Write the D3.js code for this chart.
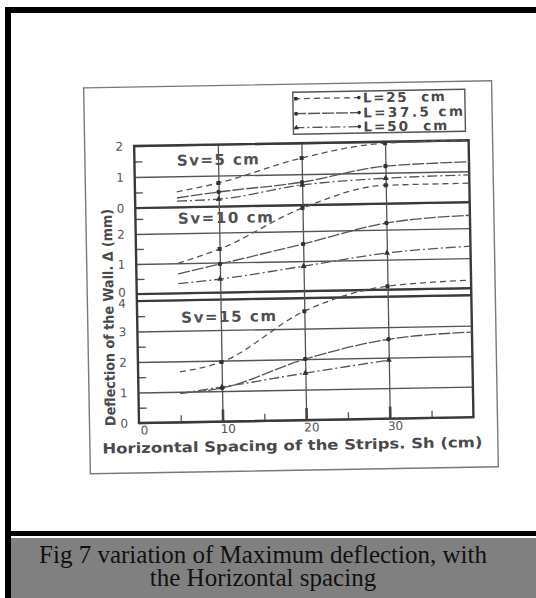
<!DOCTYPE html>
<html>
<head>
<meta charset="utf-8">
<script src="https://cdn.jsdelivr.net/npm/d3@7"></script>
<style>
  body { margin: 0; background: #fff; }
  svg { display: block; }
</style>
</head>
<body>
<svg id="chart" width="536" height="598"></svg>
<script>
// values: max deflection (mm) against horizontal spacing Sh (cm)
const spacingSh = [5, 10, 20, 30, 40];
const markerSh = [10, 20, 30];
const lengthNames = ["L=25  cm", "L=37.5 cm", "L=50  cm"];
const panelNames = ["Sv=5 cm", "Sv=10 cm", "Sv=15 cm"];

// Sv = 5 cm
const sv5L25 = [0.5, 0.76, 1.52, 1.95, 2.0];
const sv5L37 = [0.3, 0.47, 0.74, 1.21, 1.3];
const sv5L50 = [0.2, 0.24, 0.65, 0.82, 0.88];
// Sv = 10 cm
const sv10L25 = [1.0, 1.45, 2.77, 3.48, 3.5];
const sv10L37 = [0.65, 0.95, 1.57, 2.22, 2.43];
const sv10L50 = [0.32, 0.45, 0.83, 1.22, 1.4];
// Sv = 15 cm
const sv15L25 = [1.65, 1.95, 3.57, 4.34, 4.49];
const sv15L37 = [0.95, 1.1, 2.0, 2.6, 2.79];
const sv15L50 = [0.95, 1.13, 1.54, 1.92, null];

const xTickValues = [0, 10, 20, 30];
const xMinorTicks = [5, 15, 25, 35];
const sv5Ticks = [0, 1, 2];
const sv10Ticks = [0, 1, 2];
const sv15Ticks = [0, 1, 2, 3, 4];

const svg = d3.select("#chart");
const ink = "#4a4a4a";

// page frame and caption
svg.append("rect").attr("x", 0).attr("y", 0).attr("width", 536).attr("height", 598).attr("fill", "#fff");
svg.append("rect").attr("x", 5).attr("y", 7).attr("width", 531).attr("height", 6).attr("fill", "#000");
svg.append("rect").attr("x", 5).attr("y", 7).attr("width", 6).attr("height", 591).attr("fill", "#000");
svg.append("rect").attr("x", 5).attr("y", 531).attr("width", 531).attr("height", 5).attr("fill", "#000");
svg.append("rect").attr("x", 11).attr("y", 538).attr("width", 525).attr("height", 60).attr("fill", "#808080");

const caption = svg.append("text")
    .attr("text-anchor", "middle")
    .style("font-family", "'Liberation Serif', 'Times New Roman', serif")
    .style("font-size", "25px")
    .attr("fill", "#111");
caption.append("tspan").attr("x", 263).attr("y", 563).text("Fig 7 variation of Maximum deflection, with");
caption.append("tspan").attr("x", 263).attr("y", 585.5).text("the Horizontal spacing");

// the scanned chart sits slightly tilted
const g = svg.append("g").attr("transform", "rotate(-1, 136.5, 280)");

g.append("rect").attr("x", 87).attr("y", 87).attr("width", 408).attr("height", 386)
    .attr("fill", "none").attr("stroke", "#7a7a7a").attr("stroke-width", 1.4);

const plotLeft = 136.5, plotRight = 471, plotTop = 146, plotBottom = 423;
const x = d3.scaleLinear().domain([0, 40]).range([plotLeft, plotRight]);

const panels = [
    { name: panelNames[0], y: d3.scaleLinear().domain([0, 2]).range([208, 146]), ticks: sv5Ticks,
      minor: [0.5, 1.5], values: [sv5L25, sv5L37, sv5L50], lx: 179, ly: 161.5, lw: 82 },
    { name: panelNames[1], y: d3.scaleLinear().domain([0, 2]).range([294, 234]), ticks: sv10Ticks,
      minor: [0.5, 1.5, 2.5], values: [sv10L25, sv10L37, sv10L50], lx: 179, ly: 219.5, lw: 95 },
    { name: panelNames[2], y: d3.scaleLinear().domain([0, 4]).range([423, 301]), ticks: sv15Ticks,
      minor: [0.5, 1.5, 2.5, 3.5], values: [sv15L25, sv15L37, sv15L50], lx: 180.5, ly: 318.5, lw: 95 }
];

const dashes = ["6,4", "12,2", "10,3,2,3"];
const symbols = [d3.symbolSquare, d3.symbolCircle, d3.symbolTriangle];

// horizontal grid, tick labels and minor ticks for each panel
panels.forEach((p, pi) => {
    const ax = g.append("g").attr("transform", `translate(${plotLeft},0)`)
        .call(d3.axisLeft(p.y).tickValues(p.ticks).tickFormat(d3.format("d"))
            .tickSize(-(plotRight - plotLeft)).tickPadding(11));
    ax.select(".domain").remove();
    ax.selectAll("line").attr("stroke", "#555").attr("stroke-width", 1.4);
    ax.selectAll("text")
        .style("font-family", "'DejaVu Sans', sans-serif")
        .style("font-size", "12px")
        .attr("fill", "#555");
    // the 0 of the middle panel and the 4 of the lower panel sit nearly on top of each other
    if (pi === 1) ax.selectAll(".tick").filter(d => d === 0).select("text").attr("dy", "0.15em");
    if (pi === 2) ax.selectAll(".tick").filter(d => d === 4).select("text").attr("dy", "0.5em");

    const mn = g.append("g").attr("transform", `translate(${plotLeft},0)`)
        .call(d3.axisLeft(p.y).tickValues(p.minor).tickSize(-8).tickFormat(""));
    mn.select(".domain").remove();
    mn.selectAll("line").attr("stroke", "#555").attr("stroke-width", 1.3);
});

// panel separators
[panels[0].y(0), panels[1].y(0), panels[2].y(4)].forEach(yy => {
    g.append("line").attr("x1", plotLeft).attr("x2", plotRight).attr("y1", yy).attr("y2", yy)
        .attr("stroke", "#3a3a3a").attr("stroke-width", 2.2);
});

// vertical grid
const vg = g.append("g").attr("transform", `translate(0,${plotBottom})`)
    .call(d3.axisBottom(x).tickValues(markerSh).tickSize(-(plotBottom - plotTop)).tickFormat(""));
vg.select(".domain").remove();
vg.selectAll("line").attr("stroke", "#555").attr("stroke-width", 1.3);

const vt = g.append("g").attr("transform", `translate(0,${plotBottom})`)
    .call(d3.axisBottom(x).tickValues(markerSh).tickSize(-12).tickFormat(""));
vt.select(".domain").remove();
vt.selectAll("line").attr("stroke", "#444").attr("stroke-width", 2.6);

const bm = g.append("g").attr("transform", `translate(0,${plotBottom})`)
    .call(d3.axisBottom(x).tickValues(xMinorTicks).tickSize(-7).tickFormat(""));
bm.select(".domain").remove();
bm.selectAll("line").attr("stroke", "#555").attr("stroke-width", 1.3);

const bx = g.append("g").attr("transform", `translate(0,${plotBottom})`)
    .call(d3.axisBottom(x).tickValues(xTickValues).tickSize(0).tickPadding(3));
bx.select(".domain").remove();
bx.selectAll("text")
    .attr("dx", 5)
    .style("font-family", "'DejaVu Sans', sans-serif")
    .style("font-size", "12px")
    .attr("fill", "#555");

// plot border
g.append("rect").attr("x", plotLeft).attr("y", plotTop)
    .attr("width", plotRight - plotLeft).attr("height", plotBottom - plotTop)
    .attr("fill", "none").attr("stroke", "#3a3a3a").attr("stroke-width", 2.4);

// panel titles
panels.forEach(p => {
    g.append("text")
        .attr("x", p.lx).attr("y", p.ly)
        .attr("dominant-baseline", "central")
        .attr("textLength", p.lw)
        .style("font-family", "'DejaVu Sans', sans-serif")
        .style("font-size", "15px")
        .style("font-weight", "bold")
        .attr("fill", "#505050")
        .text(p.name);
});

// curves and markers
panels.forEach(p => {
    const line = d3.line()
        .defined(d => d[1] != null)
        .x(d => x(d[0]))
        .y(d => p.y(d[1]))
        .curve(d3.curveMonotoneX);

    p.values.forEach((vals, i) => {
        const pts = spacingSh.map((s, k) => [s, vals[k]]);
        g.append("path")
            .attr("d", line(pts))
            .attr("fill", "none")
            .attr("stroke", "#555")
            .attr("stroke-width", 1.3)
            .attr("stroke-dasharray", dashes[i]);

        markerSh.forEach(s => {
            const v = vals[spacingSh.indexOf(s)];
            if (v == null) return;
            g.append("path")
                .attr("d", d3.symbol().type(symbols[i]).size(16)())
                .attr("transform", `translate(${x(s)},${p.y(v)})`)
                .attr("fill", "#333");
        });
    });
});

// legend
g.append("rect").attr("x", 296).attr("y", 95).attr("width", 172).attr("height", 42)
    .attr("fill", "#fff").attr("stroke", "#555").attr("stroke-width", 1.4);

const legendY = [101.5, 116.5, 130.5];
const legendW = [82, 100, 84];
lengthNames.forEach((name, i) => {
    g.append("line")
        .attr("x1", 297).attr("x2", 362)
        .attr("y1", legendY[i]).attr("y2", legendY[i])
        .attr("stroke", "#555").attr("stroke-width", 1.3)
        .attr("stroke-dasharray", dashes[i]);
    g.append("path")
        .attr("d", d3.symbol().type(symbols[i]).size(12)())
        .attr("transform", `translate(299,${legendY[i]})`)
        .attr("fill", "#333");
    g.append("circle").attr("cx", 362).attr("cy", legendY[i]).attr("r", 1.8).attr("fill", "#333");
    g.append("text")
        .attr("x", 366).attr("y", legendY[i])
        .attr("dominant-baseline", "central")
        .attr("textLength", legendW[i])
        .style("white-space", "pre")
        .style("font-family", "'DejaVu Sans', sans-serif")
        .style("font-size", "13.5px")
        .style("font-weight", "bold")
        .attr("fill", "#4a4a4a")
        .text(name);
});

// axis titles
g.append("text")
    .attr("transform", "translate(113,317) rotate(-90)")
    .attr("text-anchor", "middle")
    .attr("textLength", 217)
    .attr("lengthAdjust", "spacingAndGlyphs")
    .style("font-family", "'DejaVu Sans', sans-serif")
    .style("font-size", "14px")
    .style("font-weight", "bold")
    .attr("fill", ink)
    .text("Deflection of the Wall. Δ (mm)");

g.append("text")
    .attr("x", 289.5).attr("y", 453)
    .attr("text-anchor", "middle")
    .attr("textLength", 380)
    .attr("lengthAdjust", "spacingAndGlyphs")
    .style("font-family", "'DejaVu Sans', sans-serif")
    .style("font-size", "14px")
    .style("font-weight", "bold")
    .attr("fill", ink)
    .text("Horizontal Spacing of the Strips. Sh (cm)");
</script>
</body>
</html>
